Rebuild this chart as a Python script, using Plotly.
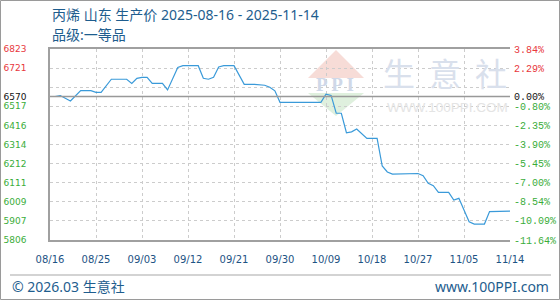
import plotly.graph_objects as go

# ---------------- data ----------------
dates = ["2025-08-16", "2025-08-17", "2025-08-18", "2025-08-20", "2025-08-22", "2025-08-24",
         "2025-08-25", "2025-08-26", "2025-08-28", "2025-08-31", "2025-09-01", "2025-09-02",
         "2025-09-03", "2025-09-04", "2025-09-05", "2025-09-07", "2025-09-08", "2025-09-10",
         "2025-09-11", "2025-09-14", "2025-09-15", "2025-09-16", "2025-09-17", "2025-09-18",
         "2025-09-19", "2025-09-21", "2025-09-23", "2025-09-25", "2025-09-27", "2025-09-28",
         "2025-09-29", "2025-09-30", "2025-10-08", "2025-10-09", "2025-10-10", "2025-10-11",
         "2025-10-12", "2025-10-13", "2025-10-14", "2025-10-15", "2025-10-17", "2025-10-19",
         "2025-10-20", "2025-10-21", "2025-10-22", "2025-10-26", "2025-10-27", "2025-10-28",
         "2025-10-29", "2025-10-30", "2025-10-31", "2025-11-02", "2025-11-03", "2025-11-04",
         "2025-11-06", "2025-11-07", "2025-11-09", "2025-11-10", "2025-11-13", "2025-11-14"]
prices = [6570, 6570, 6575, 6546, 6601, 6601,
          6592, 6592, 6662, 6662, 6640, 6667,
          6672, 6672, 6640, 6640, 6605, 6725,
          6734, 6734, 6667, 6662, 6672, 6727,
          6734, 6734, 6635, 6635, 6630, 6619,
          6600, 6539, 6539, 6583, 6576, 6481,
          6481, 6377, 6382, 6397, 6347, 6347,
          6200, 6168, 6157, 6157, 6160, 6148,
          6108, 6095, 6060, 6060, 6019, 6028,
          5903, 5891, 5891, 5957, 5957, 5960]

BASE = 6570
Y_MIN, Y_MAX = 5806, 6823
y_ticks = [5806, 5907.7, 6009.4, 6111.1, 6212.8, 6314.5, 6416.2, 6517.9, 6570, 6619.6, 6721.3, 6823]
left_labels = ["5806", "5907", "6009", "6111", "6212", "6314", "6416", "6517", "6570", "", "6721", "6823"]
right_labels = ["-11.64%", "-10.09%", "-8.54%", "-7.00%", "-5.45%", "-3.90%", "-2.35%", "-0.80%",
                "0.00%", "", "2.29%", "3.84%"]
x_ticks = ["2025-08-16", "2025-08-25", "2025-09-03", "2025-09-12", "2025-09-21", "2025-09-30",
           "2025-10-09", "2025-10-18", "2025-10-27", "2025-11-05", "2025-11-14"]
x_labels = ["08/16", "08/25", "09/03", "09/12", "09/21", "09/30", "10/09", "10/18", "10/27", "11/05", "11/14"]

title1 = "丙烯 山东 生产价 2025-08-16 - 2025-11-14"
title2 = "品级:一等品"
footer_left = "© 2026.03 生意社"
footer_right = "www.100PPI.com"

RED, GREEN, BLACK = "#e8383d", "#3aad3a", "#111111"


def colorize(labels, vals):
    out = []
    for lab, v in zip(labels, vals):
        c = BLACK if v == BASE else (RED if v > BASE else GREEN)
        out.append(f'<span style="color:{c}">{lab}</span>' if lab else "")
    return out


# ---------------- layout geometry ----------------
W, H = 560, 300
L, R, T, B = 50, 510, 49, 240


def X(px):
    return (px - L) / (R - L)


def Y(py):
    return (B - py) / (B - T)


fig = go.Figure()
fig.add_trace(go.Scatter(x=dates, y=prices, mode="lines",
                         line=dict(color="#3a9ad9", width=1.2),
                         hoverinfo="x+y", showlegend=False))
fig.add_trace(go.Scatter(x=dates, y=prices, mode="lines", yaxis="y2",
                         line=dict(color="rgba(0,0,0,0)", width=0),
                         hoverinfo="skip", showlegend=False))

grid = dict(showgrid=True, gridcolor="#cccccc", griddash="3px,3px", gridwidth=1)

fig.update_layout(
    width=W, height=H,
    margin=dict(l=L, r=W - R, t=T, b=H - B, pad=0, autoexpand=False),
    paper_bgcolor="white", plot_bgcolor="white",
    xaxis=dict(type="date", range=[x_ticks[0], x_ticks[-1]], automargin=False,
               tickmode="array", tickvals=x_ticks, ticktext=x_labels,
               tickfont=dict(family="DejaVu Sans", size=10, color="#1d5384"),
               ticks="", ticklabelstandoff=9,
               showline=True, linecolor="#a0a0a0", linewidth=1.5, mirror=True,
               zeroline=False, **grid),
    yaxis=dict(range=[Y_MIN, Y_MAX], tickmode="array", tickvals=y_ticks, automargin=False,
               ticktext=colorize(left_labels, y_ticks),
               tickfont=dict(family="DejaVu Sans", size=9),
               ticks="", ticklabelstandoff=20,
               showline=True, linecolor="#a0a0a0", linewidth=1.5,
               zeroline=False, **grid),
    yaxis2=dict(range=[Y_MIN, Y_MAX], overlaying="y", side="right", automargin=False,
                tickmode="array", tickvals=y_ticks,
                ticktext=colorize(right_labels, y_ticks),
                tickfont=dict(family="Liberation Mono", size=10),
                ticks="", ticklabelstandoff=3,
                showgrid=False, showline=False, zeroline=False),
)

shapes = []
# outer border
shapes.append(dict(type="rect", xref="paper", yref="paper",
                   x0=X(0.5), x1=X(559.5), y0=Y(299.5), y1=Y(0.5),
                   line=dict(color="#9a9a9a", width=1), fillcolor="rgba(0,0,0,0)"))
# footer separator
shapes.append(dict(type="line", xref="paper", yref="paper",
                   x0=X(10), x1=X(551), y0=Y(275), y1=Y(275),
                   line=dict(color="#a8a8a8", width=1.2)))
# base line
shapes.append(dict(type="line", xref="paper", yref="y", x0=0, x1=1, y0=BASE, y1=BASE,
                   line=dict(color="#999999", width=1.5)))
# watermark logo triangles
shapes.append(dict(type="path", xref="paper", yref="paper", layer="below",
                   path=f"M {X(308)},{Y(78)} L {X(336)},{Y(50)} L {X(364)},{Y(78)} Z",
                   fillcolor="#f7dcd7", line=dict(width=0)))
shapes.append(dict(type="path", xref="paper", yref="paper", layer="below",
                   path=f"M {X(308)},{Y(93)} L {X(336)},{Y(116)} L {X(364)},{Y(93)} Z",
                   fillcolor="#dff0de", line=dict(width=0)))
fig.update_layout(shapes=shapes)

ann = []
cjk = "Noto Sans, Noto Sans CJK SC"
ann.append(dict(text=title1, x=X(50), y=Y(15), xref="paper", yref="paper",
                xanchor="left", yanchor="middle", showarrow=False,
                font=dict(family=cjk, size=14, color="#1e5d8e")))
ann.append(dict(text=title2, x=X(50), y=Y(34), xref="paper", yref="paper",
                xanchor="left", yanchor="middle", showarrow=False,
                font=dict(family=cjk, size=14, color="#1e5d8e")))
ann.append(dict(text=footer_left, x=X(10), y=Y(286), xref="paper", yref="paper",
                xanchor="left", yanchor="middle", showarrow=False,
                font=dict(family=cjk, size=14, color="#1e5d8e")))
ann.append(dict(text=footer_right, x=X(551), y=Y(286), xref="paper", yref="paper",
                xanchor="right", yanchor="middle", showarrow=False,
                font=dict(family=cjk, size=14, color="#1e5d8e")))
# watermark text
for ch, cx in zip("生意社", [399, 445, 491]):
    ann.append(dict(text=ch, x=X(cx), y=Y(72), xref="paper", yref="paper",
                    xanchor="center", yanchor="middle", showarrow=False,
                    font=dict(family="Noto Sans CJK SC", size=32, color="#d9e0ec")))
ann.append(dict(text="<b>P P I</b>", x=X(335), y=Y(84), xref="paper", yref="paper",
                xanchor="center", yanchor="middle", showarrow=False,
                font=dict(family="Liberation Serif", size=19, color="#cfd8e8")))
ann.append(dict(text="WWW.100PPI.COM", x=X(447), y=Y(107), xref="paper", yref="paper",
                xanchor="center", yanchor="middle", showarrow=False,
                font=dict(family="Liberation Sans", size=13.5, color="#e4e4e4")))
fig.update_layout(annotations=ann)

fig.write_html("out.html")
